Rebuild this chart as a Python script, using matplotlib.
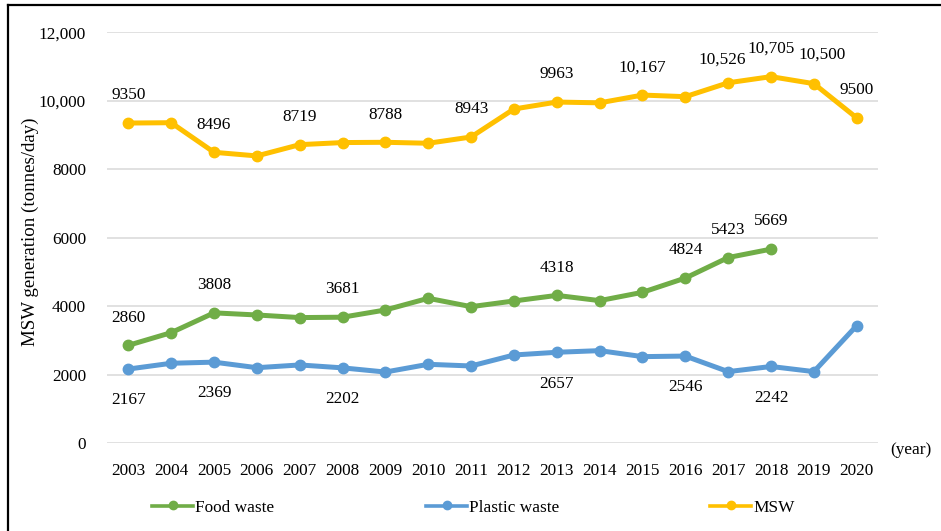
#!/usr/bin/env python3
"""
MSW, food waste and plastic waste generation (tonnes/day), 2003-2020.
"""

import matplotlib
matplotlib.use('Agg')
import matplotlib.pyplot as plt
from matplotlib.lines import Line2D

# ---- data ----
years = [2003, 2004, 2005, 2006, 2007, 2008, 2009, 2010, 2011,
         2012, 2013, 2014, 2015, 2016, 2017, 2018, 2019, 2020]

msw = [9350, 9360, 8496, 8390, 8719, 8780, 8788, 8760, 8943,
       9760, 9963, 9940, 10167, 10120, 10526, 10705, 10500, 9500]

food_years = years[:16]
food_waste = [2860, 3230, 3808, 3746, 3670, 3681, 3892, 4233, 3989,
              4155, 4318, 4165, 4408, 4824, 5423, 5669]

plastic_waste = [2167, 2336, 2369, 2207, 2287, 2202, 2080, 2306, 2257,
                 2578, 2657, 2705, 2530, 2546, 2092, 2242, 2092, 3435]

# years whose value is written on the chart
msw_labelled = [2003, 2005, 2007, 2009, 2011, 2013, 2015, 2017, 2018, 2019, 2020]
food_labelled = [2003, 2005, 2008, 2013, 2016, 2017, 2018]
plastic_labelled = [2003, 2005, 2008, 2013, 2016, 2018]

yticks = [0, 2000, 4000, 6000, 8000, 10000, 12000]
ytick_labels = ['0', '2000', '4000', '6000', '8000', '10,000', '12,000']

# ---- style ----
plt.rcParams['font.family'] = ['Liberation Serif', 'DejaVu Serif']
FS = 12.4
C_MSW = '#FFC000'
C_FOOD = '#70AD47'
C_PLASTIC = '#5B9BD5'
LW = 3.6
MS = 7.5


def fmt(v):
    # values of 10,000 and above carry a thousands separator
    return f'{v:,}' if v >= 10000 else f'{v}'


fig = plt.figure(figsize=(9.41, 5.31), dpi=100)
ax = fig.add_axes([0.1134, 0.1652, 0.8200, 0.7740])

ax.plot(years, plastic_waste, color=C_PLASTIC, lw=LW, marker='o', ms=MS,
        solid_joinstyle='round', zorder=3)
ax.plot(food_years, food_waste, color=C_FOOD, lw=LW, marker='o', ms=MS,
        solid_joinstyle='round', zorder=3)
ax.plot(years, msw, color=C_MSW, lw=LW, marker='o', ms=MS,
        solid_joinstyle='round', zorder=3)

# data labels (offsets in points)
msw_shift = {2017: (-4, 17), 2019: (6, 21)}
for yr in msw_labelled:
    v = msw[years.index(yr)]
    dx, dy = msw_shift.get(yr, (0, 20))
    ax.annotate(fmt(v), (yr, v), xytext=(dx, dy), textcoords='offset points',
                ha='center', va='center', fontsize=FS)
for yr in food_labelled:
    v = food_waste[food_years.index(yr)]
    ax.annotate(fmt(v), (yr, v), xytext=(0, 20), textcoords='offset points',
                ha='center', va='center', fontsize=FS)
for yr in plastic_labelled:
    v = plastic_waste[years.index(yr)]
    ax.annotate(fmt(v), (yr, v), xytext=(0, -22.5), textcoords='offset points',
                ha='center', va='center', fontsize=FS)

ax.set_xlim(2002.496, 2020.504)
ax.set_ylim(0, 12000)
ax.set_xticks(years)
ax.set_xticklabels([str(y) for y in years], fontsize=FS)
ax.set_yticks(yticks)
ax.set_yticklabels(ytick_labels, fontsize=FS)
ax.tick_params(axis='both', length=0)
ax.tick_params(axis='x', pad=14)
ax.tick_params(axis='y', pad=15)

ax.grid(axis='y', color='#D9D9D9', lw=1.1)
ax.set_axisbelow(True)
for s in ax.spines.values():
    s.set_visible(False)

ax.set_ylabel('MSW generation (tonnes/day)', fontsize=13.6)
ax.yaxis.set_label_coords(-0.088, 0.515)

fig.text(890 / 941, 1 - 450 / 531, '(year)', fontsize=FS, ha='left', va='center')

# legend: one entry per slot, placed like the original
entries = [('Food waste', C_FOOD, 152), ('Plastic waste', C_PLASTIC, 426), ('MSW', C_MSW, 710)]
for label, color, xpx in entries:
    h = Line2D([], [], color=color, lw=2.6, marker='o', ms=6)
    fig.legend(handles=[h], labels=[label], loc='center left',
               bbox_to_anchor=(xpx / 941, 1 - 507.5 / 531), frameon=False,
               fontsize=FS, handlelength=2.4, handletextpad=0.12,
               borderpad=0, borderaxespad=0)

# frame lines at top and left of the picture
fig.add_artist(Line2D([8.3 / 941, 8.3 / 941], [0, 1 - 5 / 531], color='black', lw=1.6,
                      transform=fig.transFigure))
fig.add_artist(Line2D([8.3 / 941, 1], [1 - 5 / 531, 1 - 5 / 531], color='black', lw=1.6,
                      transform=fig.transFigure))

fig.savefig('out.png', dpi=100)
